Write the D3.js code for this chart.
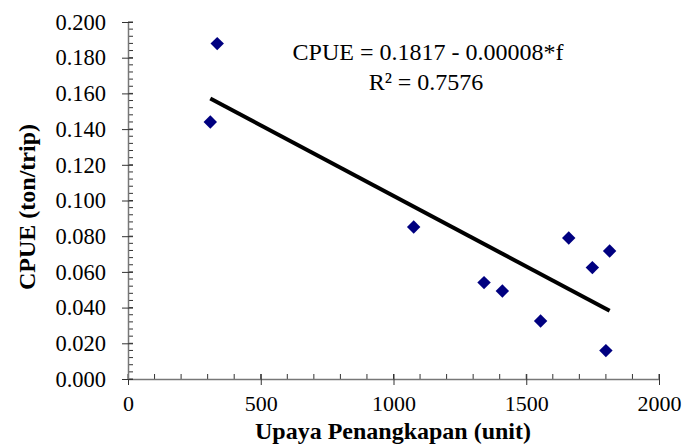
<!DOCTYPE html>
<html>
<head>
<meta charset="utf-8">
<script src="https://cdn.jsdelivr.net/npm/d3@7"></script>
<style>
  body { margin: 0; background: #fff; }
  svg text { font-family: "Liberation Serif", "Times New Roman", serif; fill: #000; }
</style>
</head>
<body>
<div id="chart"></div>
<script>
// effort (unit) and CPUE (ton/trip)
const effort = [310, 336, 1076, 1341, 1410, 1554, 1660, 1749, 1800, 1814];
const cpue = [0.144, 0.1879, 0.0852, 0.054, 0.0493, 0.0325, 0.079, 0.0624, 0.0159, 0.0717];
const xTicks = [0, 500, 1000, 1500, 2000];
const yTicks = [0, 0.02, 0.04, 0.06, 0.08, 0.1, 0.12, 0.14, 0.16, 0.18, 0.2];
const trend = { intercept: 0.1817, slope: -0.0000791 };
const labels = ["CPUE = 0.1817 - 0.00008*f", "R\u00b2 = 0.7576"];

const width = 685, height = 448;
const margin = { top: 22, right: 26, bottom: 69, left: 128 };
const serif = '"Liberation Serif", "Times New Roman", serif';

const svg = d3.select('#chart')
  .append('svg')
    .attr('width', width)
    .attr('height', height);

const x = d3.scaleLinear()
  .domain([0, 2000])
  .range([margin.left, width - margin.right]);

const y = d3.scaleLinear()
  .domain([0, 0.2])
  .range([height - margin.bottom, margin.top]);

const x0 = x(0), y0 = y(0);

// minor ticks (inside)
svg.append("g")
  .selectAll("line")
  .data(d3.range(0, 2001, 100))
  .enter().append("line")
    .attr("x1", d => x(d)).attr("x2", d => x(d))
    .attr("y1", y0).attr("y2", y0 - 5)
    .attr("stroke", "#333").attr("stroke-width", 1);

svg.append("g")
  .selectAll("line")
  .data(d3.range(0, 51).map(i => i * 0.004))
  .enter().append("line")
    .attr("y1", d => y(d)).attr("y2", d => y(d))
    .attr("x1", x0).attr("x2", x0 + 5)
    .attr("stroke", "#333").attr("stroke-width", 1);

// x axis
const xAxis = svg.append("g")
  .attr("transform", `translate(0,${y0})`)
  .call(d3.axisBottom(x).tickValues(xTicks).tickFormat(d3.format("d"))
    .tickSize(6).tickSizeOuter(0).tickPadding(10));

xAxis.attr("font-family", serif).attr("font-size", 22);
xAxis.select(".domain").attr("stroke", "#777").attr("stroke-width", 1.5);
xAxis.selectAll(".tick line").attr("y1", -5).attr("stroke", "#333");

// y axis
const yAxis = svg.append("g")
  .attr("transform", `translate(${x0},0)`)
  .call(d3.axisLeft(y).tickValues(yTicks).tickSize(6).tickSizeOuter(0).tickPadding(16)
    .tickFormat(d3.format(".3f")));

yAxis.attr("font-family", serif).attr("font-size", 22.5);
yAxis.select(".domain").attr("stroke", "#777").attr("stroke-width", 1.5);
yAxis.selectAll(".tick line").attr("x1", 5).attr("stroke", "#333");

// trend line
const tx = d3.extent(effort);
svg.append("line")
  .attr("x1", x(tx[0])).attr("y1", y(trend.intercept + trend.slope * tx[0]))
  .attr("x2", x(tx[1])).attr("y2", y(trend.intercept + trend.slope * tx[1]))
  .attr("stroke", "#000")
  .attr("stroke-width", 4);

// points
const diamond = d3.symbol().type(d3.symbolDiamond2).size(115);
svg.append("g")
  .selectAll("path")
  .data(effort.map((d, i) => ({ f: d, c: cpue[i] })))
  .enter().append("path")
    .attr("d", diamond)
    .attr("transform", d => `translate(${x(d.f)},${y(d.c)})`)
    .attr("fill", "#000080");

// equation
svg.append("g")
  .selectAll("text")
  .data(labels)
  .enter().append("text")
    .attr("x", (d, i) => i === 0 ? 428 : 426)
    .attr("y", (d, i) => 60 + i * 30)
    .attr("text-anchor", "middle")
    .attr("font-family", serif)
    .attr("font-size", 24)
    .text(d => d);

// axis titles
svg.append("text")
  .attr("x", 393)
  .attr("y", 439)
  .attr("text-anchor", "middle")
  .attr("font-family", serif)
  .attr("font-size", 24)
  .attr("font-weight", "bold")
  .text("Upaya Penangkapan (unit)");

svg.append("text")
  .attr("transform", "translate(35,207) rotate(-90)")
  .attr("text-anchor", "middle")
  .attr("font-family", serif)
  .attr("font-size", 24)
  .attr("font-weight", "bold")
  .text("CPUE (ton/trip)");
</script>
</body>
</html>
